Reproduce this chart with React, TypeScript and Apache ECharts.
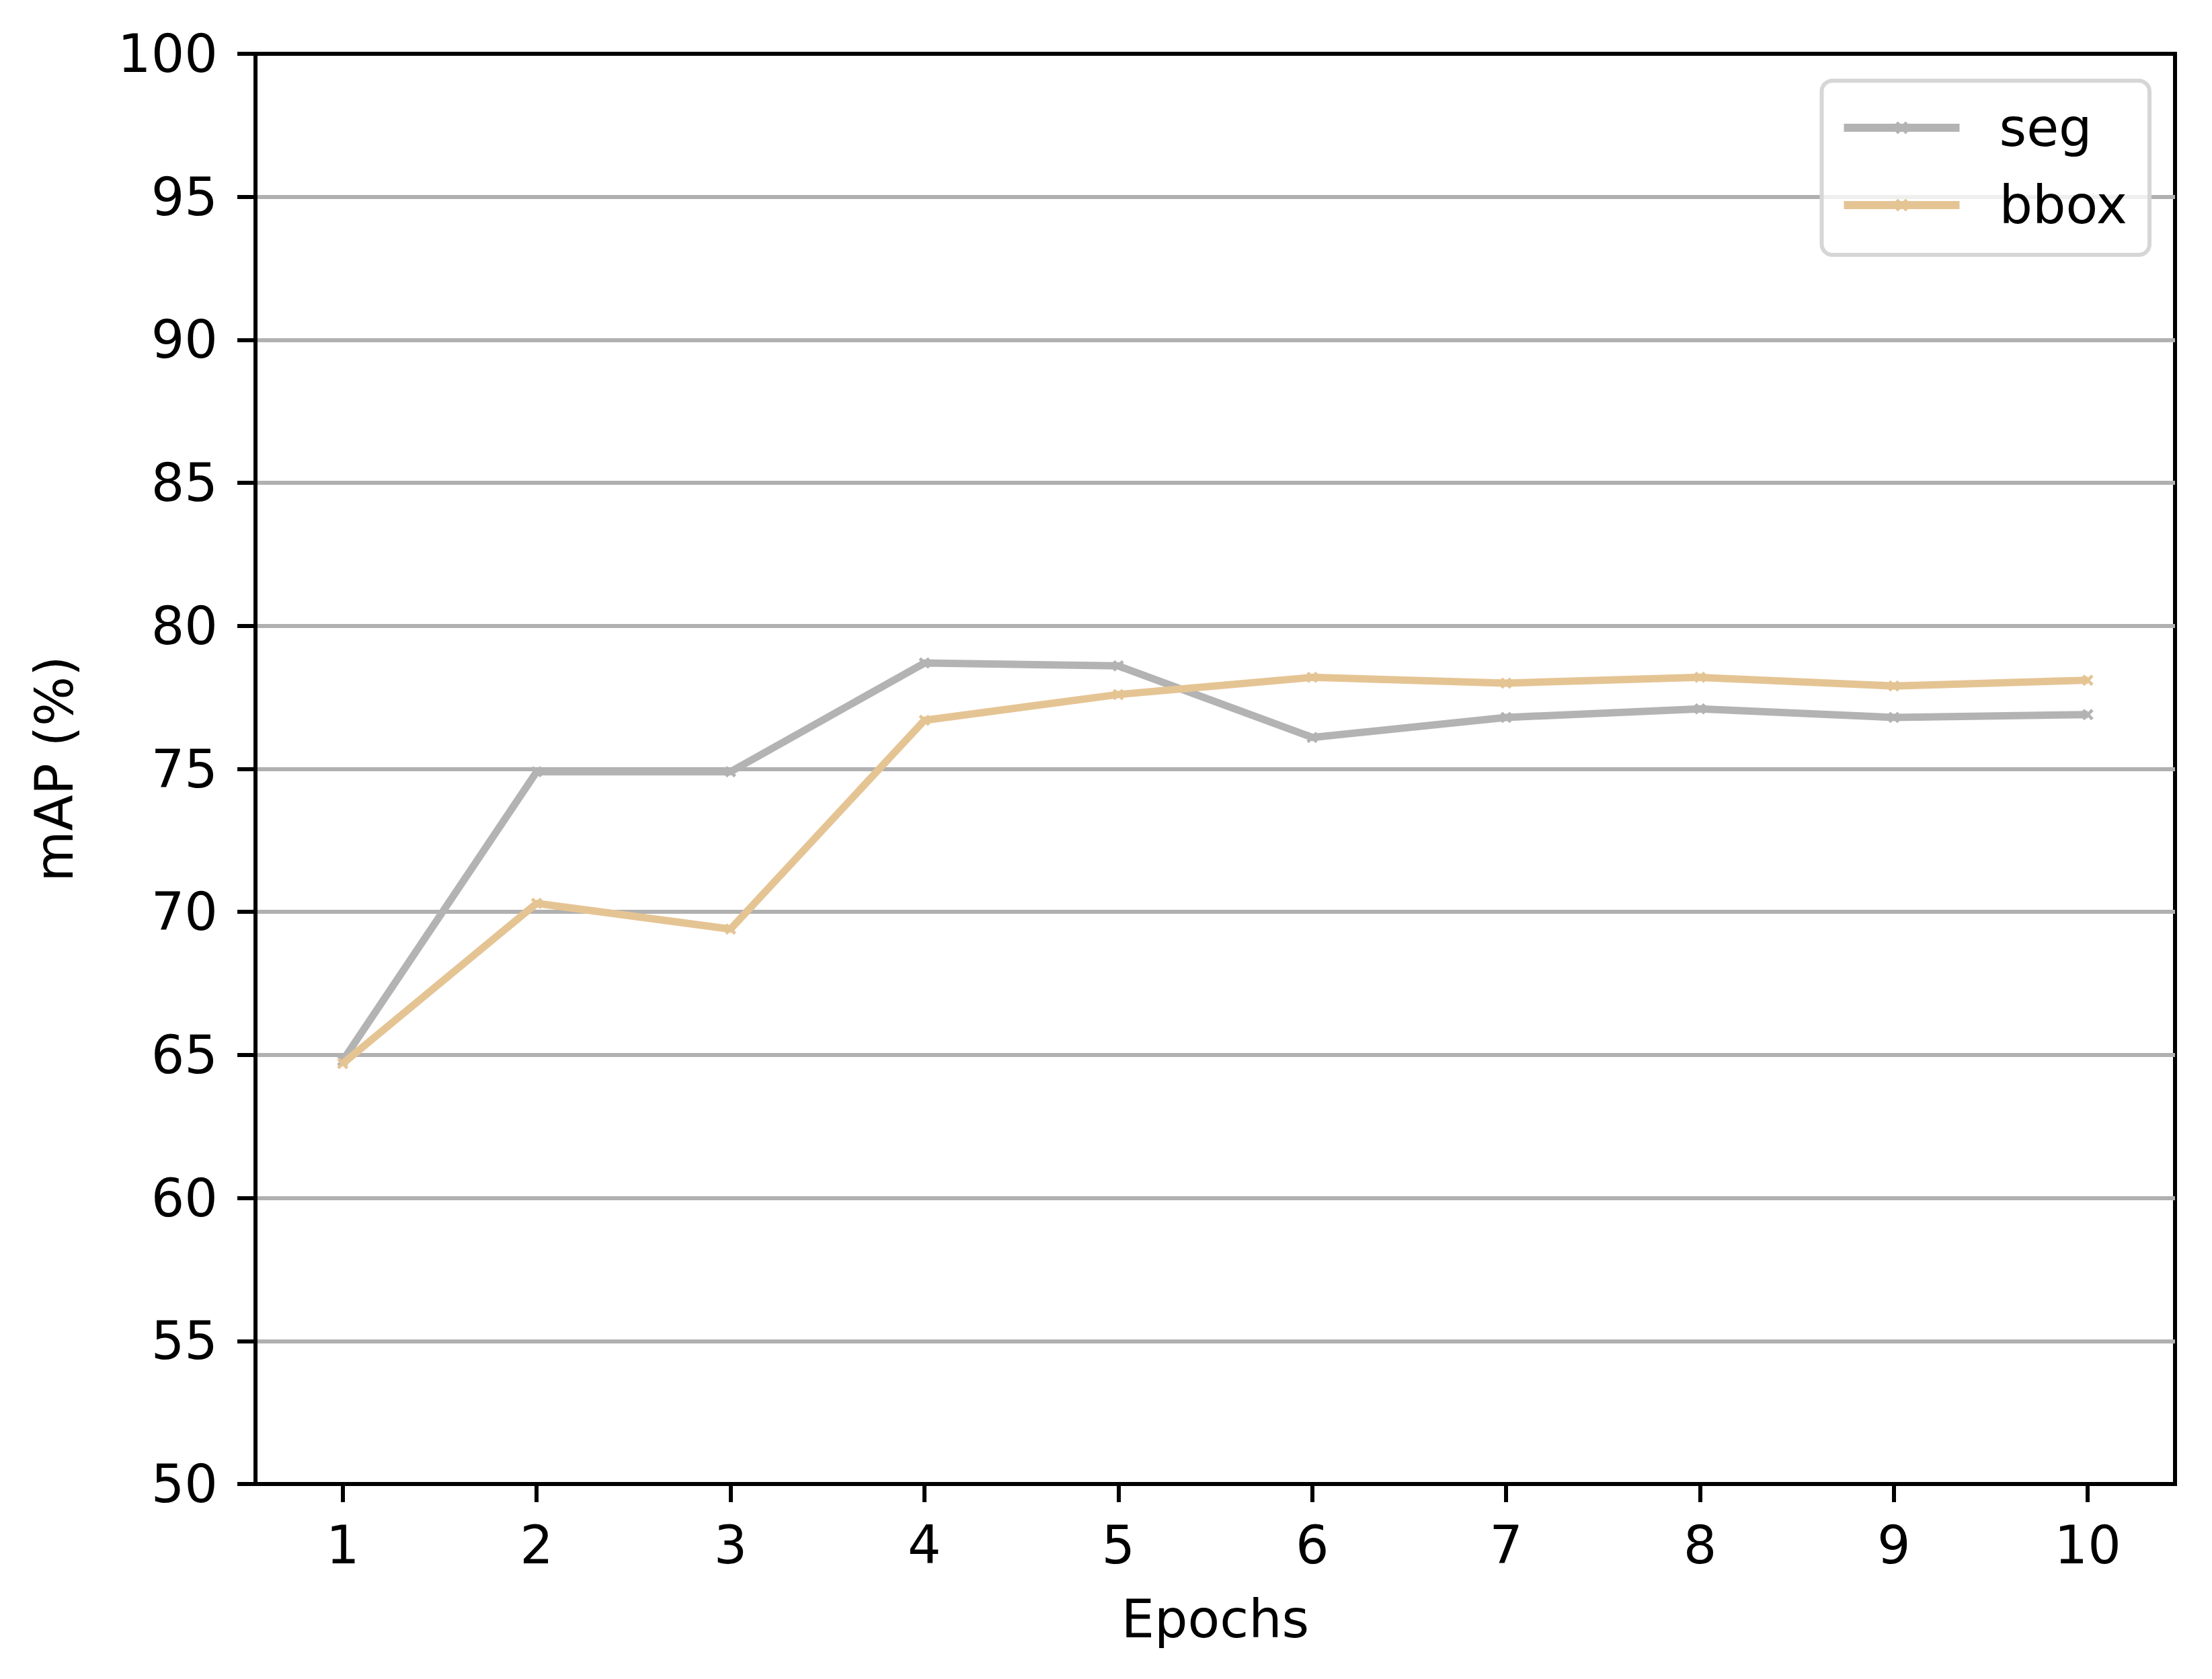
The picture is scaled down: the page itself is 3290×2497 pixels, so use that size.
import React, { useEffect, useRef } from "react";
import * as echarts from "echarts";

const epochs = [1, 2, 3, 4, 5, 6, 7, 8, 9, 10];
const segValues = [64.8, 74.9, 74.9, 78.7, 78.6, 76.1, 76.8, 77.1, 76.8, 76.9];
const bboxValues = [64.7, 70.3, 69.4, 76.7, 77.6, 78.2, 78.0, 78.2, 77.9, 78.1];
const yTicks = { min: 50, max: 100, interval: 5 };
const seriesNames = ["seg", "bbox"];
const seriesColors = ["#b3b3b3", "#e5c494"];

const X_SYMBOL =
  "path://M2,0 L5,3 L8,0 L10,2 L7,5 L10,8 L8,10 L5,7 L2,10 L0,8 L3,5 L0,2 Z";

const FONT = "DejaVu Sans";

export default function App() {
  const ref = useRef<HTMLDivElement>(null);
  useEffect(() => {
    if (!ref.current) return;
    const chart = echarts.init(ref.current, null, { renderer: "svg" });
    const allSeries = [segValues, bboxValues];
    chart.setOption({
      animation: false,
      backgroundColor: "#ffffff",
      textStyle: { fontFamily: FONT },
      grid: {
        left: 380,
        right: 55,
        top: 80,
        bottom: 290,
        show: true,
        borderColor: "#000000",
        borderWidth: 6,
        backgroundColor: "transparent",
        containLabel: false,
      },
      legend: {
        orient: "vertical",
        right: 93,
        top: 120,
        padding: [30, 33, 34, 27],
        backgroundColor: "rgba(255,255,255,0.8)",
        borderColor: "#d6d6d6",
        borderWidth: 6,
        borderRadius: 16,
        itemWidth: 172,
        itemHeight: 24,
        itemGap: 35,
        lineStyle: { width: 12 },
        textStyle: {
          fontFamily: FONT,
          fontSize: 78,
          color: "#000000",
          lineHeight: 80,
          padding: [0, 0, 0, 54],
        },
        data: seriesNames,
      },
      xAxis: {
        type: "value",
        min: 0.55,
        max: 10.45,
        name: "Epochs",
        nameLocation: "middle",
        nameGap: 162,
        nameTextStyle: { fontFamily: FONT, fontSize: 78, color: "#000000" },
        axisLine: { show: true, lineStyle: { color: "#000000", width: 6 } },
        axisTick: {
          show: true,
          length: 27,
          lineStyle: { color: "#000000", width: 6 },
          customValues: epochs,
        },
        axisLabel: {
          show: true,
          margin: 52,
          fontFamily: FONT,
          fontSize: 78,
          color: "#000000",
          customValues: epochs,
          formatter: (v: number) => String(v),
        },
        splitLine: { show: false },
      },
      yAxis: {
        type: "value",
        min: yTicks.min,
        max: yTicks.max,
        interval: yTicks.interval,
        name: "mAP (%)",
        nameLocation: "middle",
        nameGap: 260,
        nameTextStyle: { fontFamily: FONT, fontSize: 78, color: "#000000" },
        axisLine: { show: true, lineStyle: { color: "#000000", width: 6 } },
        axisTick: {
          show: true,
          length: 27,
          lineStyle: { color: "#000000", width: 6 },
        },
        axisLabel: {
          margin: 56,
          fontFamily: FONT,
          fontSize: 78,
          color: "#000000",
        },
        splitLine: {
          show: true,
          showMinLine: false,
          showMaxLine: false,
          lineStyle: { color: "#b0b0b0", width: 6 },
        },
      },
      series: seriesNames.map((name, i) => ({
        name,
        type: "line",
        data: epochs.map((e, j) => [e, allSeries[i][j]]),
        symbol: X_SYMBOL,
        symbolSize: 17,
        showSymbol: true,
        color: seriesColors[i],
        itemStyle: { color: seriesColors[i] },
        lineStyle: { color: seriesColors[i], width: 11 },
        z: 3 + i,
      })),
    });
    return () => chart.dispose();
  }, []);
  return (
    <div
      ref={ref}
      style={{ position: "fixed", left: 0, top: 0, width: 3290, height: 2497 }}
    />
  );
}
